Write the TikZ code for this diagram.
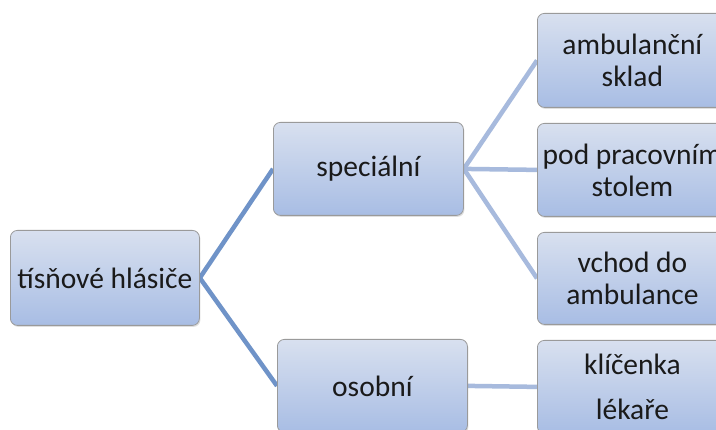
\documentclass[tikz,border=0pt]{standalone}
\usepackage{fontspec}
\setmainfont{Carlito}
\usetikzlibrary{shadows,backgrounds}
\definecolor{boxtop}{HTML}{D8E0EF}
\definecolor{boxbot}{HTML}{A8BDE4}
\definecolor{boxline}{HTML}{9A9A9A}
\definecolor{linkdark}{HTML}{6F93C8}
\definecolor{linklight}{HTML}{A7BADD}
\definecolor{txt}{HTML}{1A1A1A}
\tikzset{
  box/.style={draw=boxline, line width=0.8pt, rounded corners=7pt,
    top color=boxtop, bottom color=boxbot, anchor=north west,
    inner sep=0pt, align=center, text=txt,
    font=\fontsize{29.5}{32}\selectfont,
    drop shadow={opacity=0.25, shadow xshift=1pt, shadow yshift=-1.5pt}},
  darklink/.style={draw=linkdark, line width=4.5pt},
  lightlink/.style={draw=linklight, line width=4.5pt}
}
\begin{document}
\begin{tikzpicture}[x=1pt,y=-1pt]
\useasboundingbox (0,0) rectangle (716,430);
\clip (0,0) rectangle (716,430);
% nodes
\node[box, minimum width=189pt, minimum height=95pt] (root) at (10,230) {tísňové hlásiče};
\node[box, minimum width=190pt, minimum height=93pt] (spec) at (273,122) {speciální};
\node[box, minimum width=190pt, minimum height=93pt] (osob) at (277,339) {osobní};
\node[box, minimum width=190pt, minimum height=94pt] (amb) at (537,13) {ambulanční\\sklad};
\node[box, minimum width=190pt, minimum height=93pt] (pod) at (537,123) {pod pracovním\\stolem};
\node[box, minimum width=190pt, minimum height=92pt] (vch) at (537,232) {vchod do\\ambulance};
\node[box, minimum width=190pt, minimum height=93pt] (kli) at (537,340) {klíčenka\\[13pt]lékaře};
% connectors
\begin{scope}[on background layer]
\fill[white] (0,0) rectangle (716,430);
\draw[darklink] (root.east) -- (spec.west);
\draw[darklink] (root.east) -- (osob.west);
\draw[lightlink] (spec.east) -- (amb.west);
\draw[lightlink] (spec.east) -- (pod.west);
\draw[lightlink] (spec.east) -- (vch.west);
\draw[lightlink] (osob.east) -- (kli.west);
\end{scope}
\end{tikzpicture}
\end{document}
